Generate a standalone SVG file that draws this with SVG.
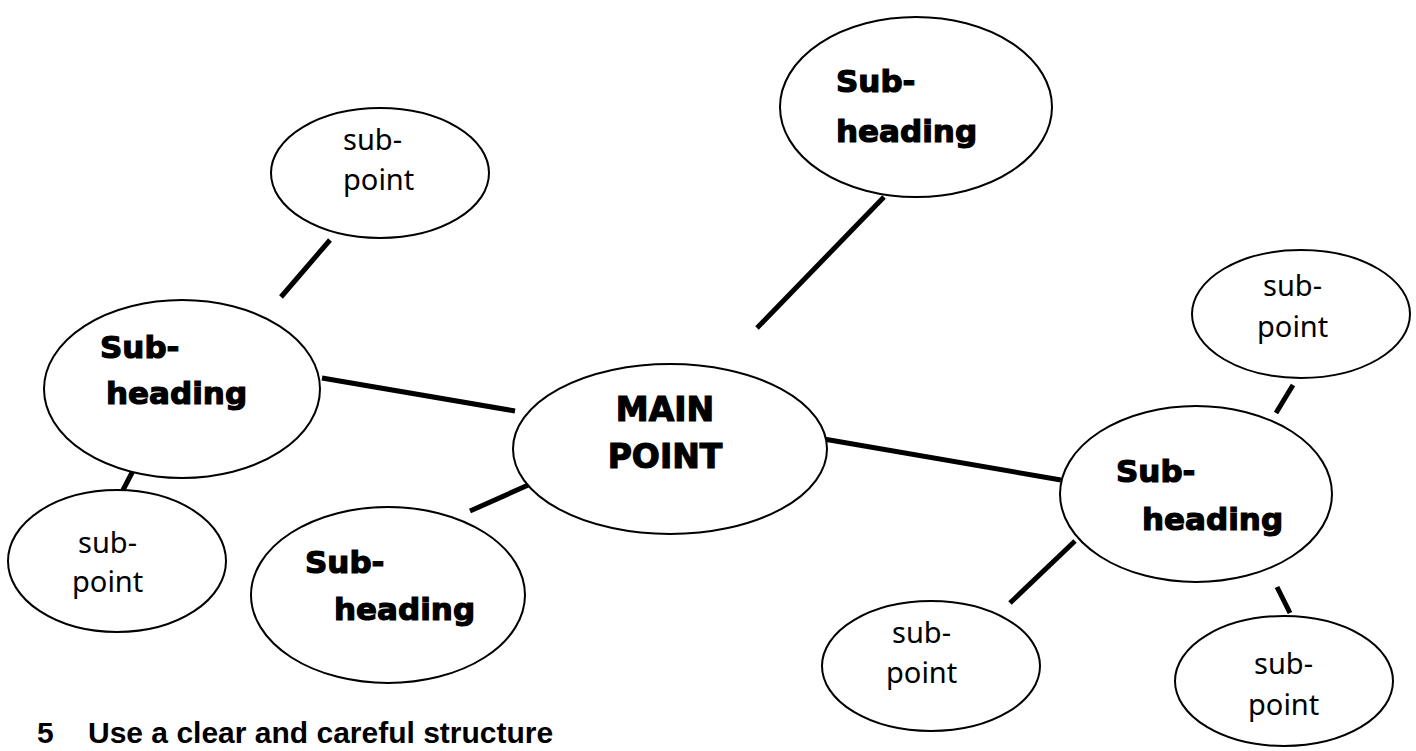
<svg xmlns="http://www.w3.org/2000/svg" width="1416" height="751" viewBox="0 0 1416 751">
<style>
.n{fill:#fff;stroke:#000;stroke-width:2}
.h{font-family:"DejaVu Sans","Open Sans",sans-serif;font-weight:bold;font-size:31px;fill:#000;stroke:#000;stroke-width:1.2}
.p{font-family:"Noto Sans","Open Sans",sans-serif;font-size:29px;fill:#000}
.c line{stroke:#000;stroke-width:5}
.t{font-family:"Liberation Sans",Arial,sans-serif;font-weight:bold;font-size:30px;fill:#000}
</style>
<rect width="1416" height="751" fill="#fff"/>
<g class="c" id="connectors">
<line x1="330" y1="240" x2="281" y2="297"/>
<line x1="322" y1="378" x2="515" y2="411"/>
<line x1="137" y1="463" x2="122" y2="492"/>
<line x1="470" y1="511" x2="535" y2="482"/>
<line x1="884" y1="197" x2="757" y2="328"/>
<line x1="818" y1="438" x2="1061" y2="480"/>
<line x1="1293" y1="385" x2="1276" y2="413"/>
<line x1="1075" y1="541" x2="1010" y2="603"/>
<line x1="1277" y1="587" x2="1290" y2="613"/>
</g>
<g id="main"><ellipse class="n" cx="670" cy="449" rx="157" ry="85"/>
<text class="h" x="665" y="421" text-anchor="middle" style="font-size:33px">MAIN</text><text class="h" x="665" y="468" text-anchor="middle" style="font-size:33px">POINT</text></g>
<g id="sh-top"><ellipse class="n" cx="916" cy="107" rx="136" ry="90"/>
<text class="h" x="836" y="92">Sub-</text><text class="h" x="836" y="142">heading</text></g>
<g id="sh-left"><ellipse class="n" cx="182" cy="389" rx="138" ry="89"/>
<text class="h" x="100" y="358">Sub-</text><text class="h" x="106" y="404">heading</text></g>
<g id="sh-bottom"><ellipse class="n" cx="388" cy="595" rx="137" ry="88"/>
<text class="h" x="305" y="573">Sub-</text><text class="h" x="334" y="620">heading</text></g>
<g id="sh-right"><ellipse class="n" cx="1196" cy="494" rx="136" ry="88"/>
<text class="h" x="1116" y="482">Sub-</text><text class="h" x="1142" y="530">heading</text></g>
<g id="sp-1"><ellipse class="n" cx="380" cy="173" rx="109" ry="65"/>
<text class="p" x="343" y="150">sub-</text><text class="p" x="343" y="190">point</text></g>
<g id="sp-2"><ellipse class="n" cx="117" cy="561" rx="109" ry="71"/>
<text class="p" x="78" y="553">sub-</text><text class="p" x="72" y="592">point</text></g>
<g id="sp-3"><ellipse class="n" cx="1301" cy="314" rx="109" ry="64"/>
<text class="p" x="1263" y="296">sub-</text><text class="p" x="1257" y="337">point</text></g>
<g id="sp-4"><ellipse class="n" cx="931" cy="666" rx="109" ry="65"/>
<text class="p" x="892" y="643">sub-</text><text class="p" x="886" y="683">point</text></g>
<g id="sp-5"><ellipse class="n" cx="1284" cy="681" rx="109" ry="65"/>
<text class="p" x="1254" y="674">sub-</text><text class="p" x="1248" y="715">point</text></g>
<text class="t" x="37" y="743">5</text><text class="t" x="88" y="743">Use a clear and careful structure</text>
</svg>
